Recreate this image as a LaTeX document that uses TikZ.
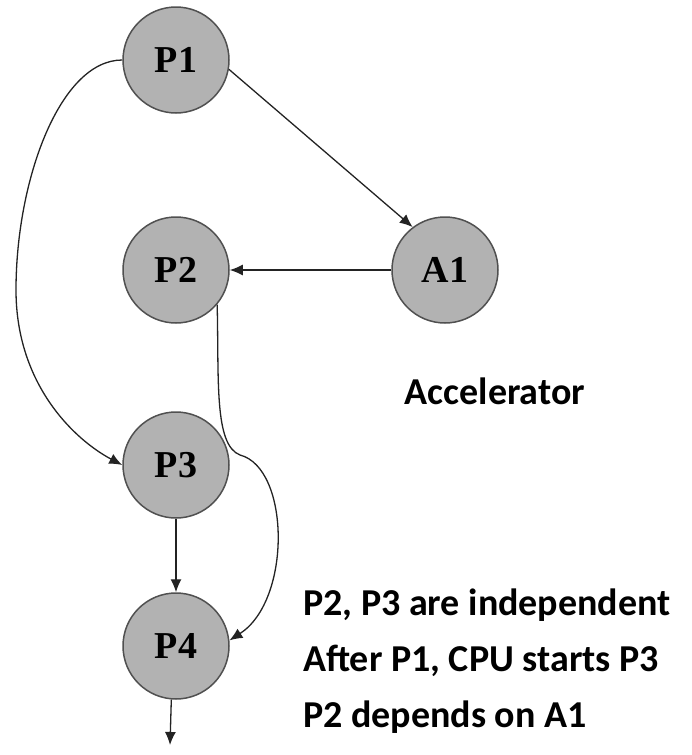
\documentclass[tikz,border=0pt]{standalone}
\usepackage{fontspec}
\setmainfont{Carlito}
\newfontfamily\labelfont{Liberation Serif}
\usetikzlibrary{arrows.meta}
\definecolor{procfill}{RGB}{178,178,178}
\definecolor{procedge}{RGB}{80,80,80}
\definecolor{wire}{RGB}{35,35,35}
\begin{document}
\begin{tikzpicture}[x=1pt,y=-1pt,
  proc/.style={circle,draw=procedge,fill=procfill,line width=1.5pt,
    minimum size=106pt,inner sep=0pt,font=\labelfont\bfseries\fontsize{38}{40}\selectfont},
  link/.style={draw=wire,line width=1.3pt,-{Latex[length=13pt,width=11pt]}},
  note/.style={anchor=base west,inner sep=0pt,font=\bfseries\fontsize{38}{46}\selectfont}]
  \useasboundingbox (0,0) rectangle (692,755);

  % task nodes
  \node[proc] (P1) at (176,60)  {P1};
  \node[proc] (P2) at (176,270) {P2};
  \node[proc] (A1) at (445,270) {A1};
  \node[proc] (P3) at (176,465) {P3};
  \node[proc] (P4) at (176,646) {P4};
  \coordinate (out) at (170,745);

  % dependencies
  \draw[link] (P1.-10) -- (A1.127);
  \draw[link] (A1) -- (P2);
  \draw[link] (P3) -- (P4);
  \draw[link] (P4.-95) -- (out);
  \draw[link] (P1.west) .. controls (60,60) and (16,180) .. (16,290)
                        .. controls (16,385) and (75,440) .. (P3.west);
  \draw[link] (P2.-40) .. controls (219,380) and (214,445) .. (240,455)
                       .. controls (290,468) and (292,600) .. (P4.6);

  % annotations
  \node[anchor=base,inner sep=0pt,font=\bfseries\fontsize{38}{46}\selectfont]
    (acc) at (495,404) {Accelerator};
  \node[note] (n1) at (303,615) {P2, P3 are independent};
  \node[note] (n2) at (303,671) {After P1, CPU starts P3};
  \node[note] (n3) at (303,727) {P2 depends on A1};
\end{tikzpicture}
\end{document}
